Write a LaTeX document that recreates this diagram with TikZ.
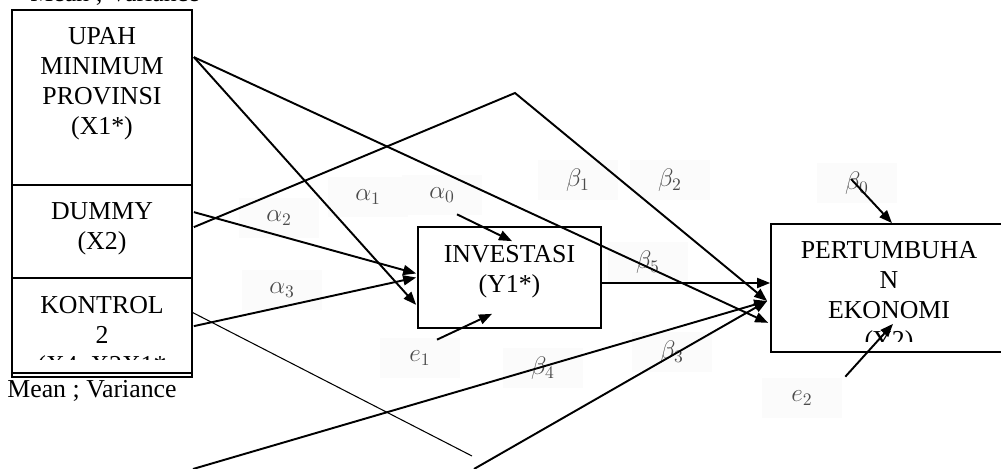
\documentclass[tikz,border=0pt]{standalone}
\usepackage{fontspec}
\setmainfont{Liberation Serif}
\usepackage{amsmath}
\usepackage{tikz}
\usetikzlibrary{arrows.meta, calc, positioning}
\definecolor{coefbg}{gray}{0.985}
\definecolor{coeftext}{gray}{0.3}
\tikzset{
	varbox/.style={draw, line width=1pt, inner sep=0pt},
	vartext/.style={align=center, inner sep=0pt, anchor=north, font=\fontsize{14.7}{17}\selectfont},
	coef/.style={fill=coefbg, text=coeftext, minimum width=1.6cm, minimum height=0.8cm, inner sep=0pt, font=\fontsize{14}{16}\selectfont},
	link/.style={line width=1.1pt, -{Triangle[length=0.26cm, width=0.2cm]}},
	thinline/.style={line width=0.6pt},
}

\begin{document}
\begin{tikzpicture}[x=0.02cm, y=-0.02cm]
	\useasboundingbox (0,0) rectangle (1001,469);

	\node[coef] (a1) at (368,197) {$\alpha_1$};
	\node[coef] (a0) at (442,195) {$\alpha_0$};
	\node[coef] (a2) at (279,218) {$\alpha_2$};
	\node[coef] (a3) at (282,290) {$\alpha_3$};
	\node[coef] (b1) at (578,180) {$\beta_1$};
	\node[coef] (b2) at (670,180) {$\beta_2$};
	\node[coef] (b5) at (648,262) {$\beta_5$};
	\node[coef] (b0) at (857,183) {$\beta_0$};
	\node[coef] (b3) at (672,352) {$\beta_3$};
	\node[coef] (b4) at (543,368) {$\beta_4$};
	\node[coef] (e1) at (420,358) {$e_1$};
	\node[coef] (e2) at (802,398) {$e_2$};

	\node[varbox, minimum width=3.6cm, minimum height=3.5cm] (upah) at (102,97.5) {};
	\node[vartext] at ($(upah.north)+(0,18)$) {UPAH\\MINIMUM\\PROVINSI\\(X1*)};

	\node[varbox, minimum width=3.6cm, minimum height=1.86cm] (dummy) at (102,231.5) {};
	\node[vartext] at ($(dummy.north)+(0,18)$) {DUMMY\\(X2)};

	\node[varbox, minimum width=3.6cm, minimum height=1.98cm] (kontrol) at (102,327.5) {};
	\draw[line width=1pt] ($(kontrol.south west)+(0,-5)$) -- ($(kontrol.south east)+(0,-5)$);
	\begin{scope}
		\clip (kontrol.north west) rectangle ($(kontrol.north east)+(0,82)$);
		\node[vartext] at ($(kontrol.north)+(0,19)$) {KONTROL\\2\\(X4, X2X1*};
	\end{scope}

	\node[varbox, minimum width=3.66cm, minimum height=2.02cm] (invest) at (509.5,277.5) {};
	\node[vartext] at ($(invest.north)+(0,19)$) {INVESTASI\\(Y1*)};

	\node[varbox, minimum width=4.72cm, minimum height=2.56cm] (tumbuh) at (889,288) {};
	\begin{scope}
		\clip (tumbuh.north west) rectangle ($(tumbuh.north east)+(0,118)$);
		\node[vartext] at ($(tumbuh.north)+(0,18)$) {PERTUMBUHA\\N\\EKONOMI\\(Y2)};
	\end{scope}

	\node[anchor=base west, inner sep=0pt, font=\fontsize{14.7}{17}\selectfont] (meantop) at (30,1.5) {Mean ; Variance};
	\node[anchor=north west, inner sep=0pt, font=\fontsize{14.7}{17}\selectfont] (meanbot) at (7,380) {Mean ; Variance};

	\coordinate (peak) at (515,93);
	\coordinate (kink) at (472,456);
	\coordinate (lowstart) at (474,469);
	\coordinate (farstart) at (193,469);

	\draw[link] ($(upah.north east)+(1,48)$) -- ($(invest.south west)+(-1,-24)$);
	\draw[link] ($(upah.north east)+(1,48)$) -- ($(tumbuh.south west)+(-2,-30)$);
	\draw[link] ($(dummy.north east)+(1,43)$) -- (peak) -- ($(tumbuh.west)+(-3,13)$);
	\draw[link] ($(dummy.north east)+(1,28)$) -- ($(invest.west)+(-1,-4)$);
	\draw[link] ($(kontrol.north east)+(1,49)$) -- ($(invest.west)+(-1,0)$);
	\draw[thinline] ($(kontrol.north east)+(-1,35)$) -- (kink);
	\draw[link] (lowstart) -- ($(tumbuh.west)+(-3,13)$);
	\draw[link] (farstart) -- ($(tumbuh.west)+(-3,13)$);
	\draw[link] ($(invest.east)+(0,5.5)$) -- ($(tumbuh.west)+(0,-5)$);

	\draw[link] ($(a0.south)+(15,-1)$) -- ($(invest.north)+(2.5,15)$);
	\draw[link] ($(e1.north)+(17,2)$) -- ($(invest.south)+(-17.5,-15)$);
	\draw[link] ($(b0.center)+(-6,-4)$) -- ($(tumbuh.north)+(3,0)$);
	\draw[link] ($(e2.north east)+(3,-1)$) -- ($(tumbuh.south)+(4,-29)$);
\end{tikzpicture}
\end{document}
